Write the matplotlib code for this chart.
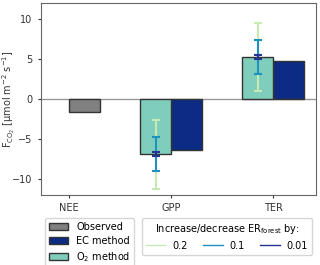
import numpy as np
import matplotlib.pyplot as plt
from matplotlib.lines import Line2D

categories = ["NEE", "GPP", "TER"]
observed = [-1.6, np.nan, np.nan]
ec_method = [np.nan, -6.4, 4.75]
o2_method = [np.nan, -6.9, 5.25]

err_levels = ["0.2", "0.1", "0.01"]
err_gpp = [4.3, 2.15, 0.22]
err_ter = [4.2, 2.12, 0.2]

c_obs = "#808080"
c_ec = "#0c2c84"
c_o2 = "#7fcdbb"
err_colors = ["#c7e9b4", "#1d91c0", "#253494"]

plt.rcParams["font.size"] = 7

fig = plt.figure(figsize=(3.2, 2.65), dpi=100)
ax = fig.add_axes([0.128, 0.264, 0.859, 0.725])

x = np.arange(len(categories))
w = 0.3
ax.bar(x, observed, w, align="edge", color=c_obs, edgecolor="#333333", linewidth=1, label="Observed")
ax.bar(x, ec_method, w, align="edge", color=c_ec, edgecolor="#333333", linewidth=1, label="EC method")
ax.bar(x - w, o2_method, w, align="edge", color=c_o2, edgecolor="#333333", linewidth=1, label="O$_2$ method")

for i, lvl in enumerate(err_levels):
    ax.errorbar(x[1:] - w / 2, o2_method[1:], yerr=[err_gpp[i], err_ter[i]],
                fmt="none", ecolor=err_colors[i], elinewidth=1.5, capsize=3,
                capthick=1.5)

ax.axhline(0, color="#999999", linewidth=1, zorder=0.5)
ax.set_xlim(-0.275, 2.42)
ax.set_ylim(-12, 12)
ax.set_yticks([-10, -5, 0, 5, 10])
ax.set_xticks(x)
ax.set_xticklabels(categories)
ax.set_ylabel(r"F$_{\mathrm{CO_2}}$ [μmol m$^{-2}$ s$^{-1}$]", color="#333333")
ax.yaxis.set_label_coords(-0.088, 0.5)
for s in ax.spines.values():
    s.set_color("#666666")
ax.tick_params(colors="#333333", length=2.5, width=0.8)

leg1 = fig.legend(*ax.get_legend_handles_labels(), loc="upper left",
                  bbox_to_anchor=(0.1406, 0.177), borderaxespad=0,
                  frameon=True, handlelength=2.0, handletextpad=0.8,
                  borderpad=0.4, labelspacing=0.4)

handles = [Line2D([0], [0], color=c, linewidth=1) for c in err_colors]
leg2 = fig.legend(handles, err_levels, loc="upper left",
                  bbox_to_anchor=(0.444, 0.177, 0.531, 0.0), mode="expand",
                  borderaxespad=0, ncol=3, frameon=True,
                  title="Increase/decrease ER$_{\\mathrm{forest}}$ by:",
                  title_fontsize=7, handlelength=2.0, handletextpad=0.7,
                  columnspacing=0.7, borderpad=0.4)

fig.savefig("out.png", dpi=100)
